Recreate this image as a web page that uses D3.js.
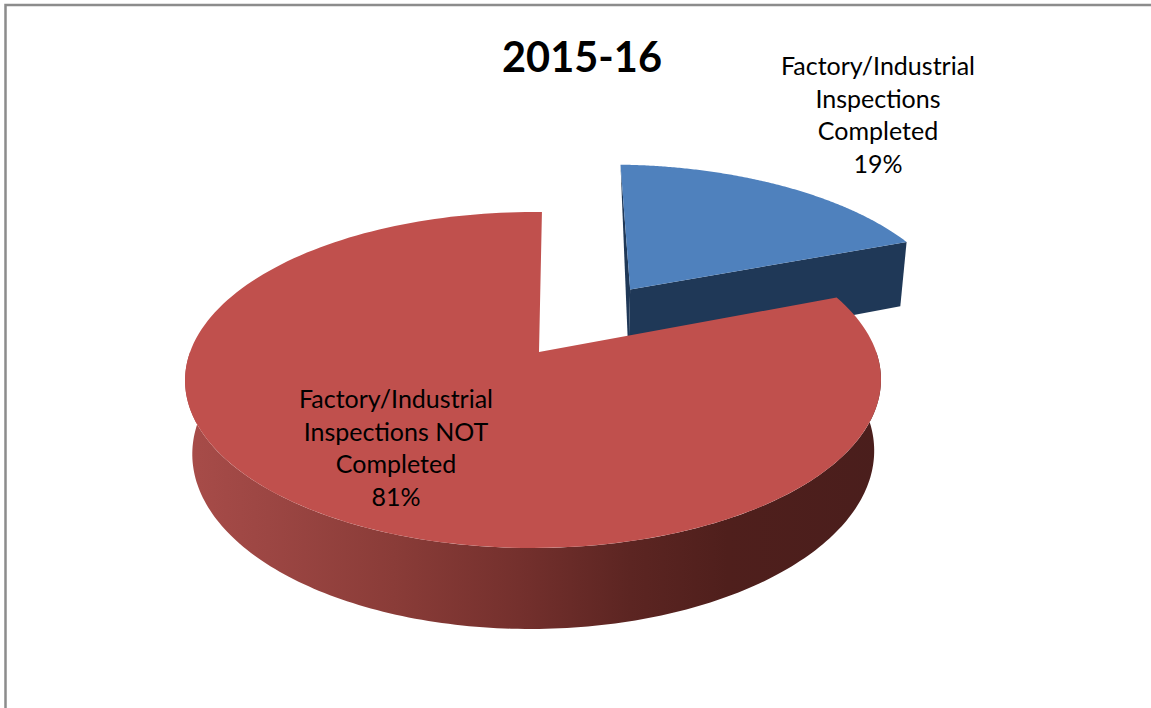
<!DOCTYPE html>
<html>
<head>
<meta charset="utf-8">
<script src="https://cdn.jsdelivr.net/npm/d3@7/dist/d3.min.js"></script>
<style>
  html, body { margin: 0; padding: 0; background: #fff; }
  svg { display: block; }
  text { font-family: Lato, "Open Sans", sans-serif; fill: #000; }
</style>
</head>
<body>
<svg id="chart" width="1151" height="708"></svg>
<script>
// Chart content
const chartTitle = "2015-16";
const categories = ["Factory/Industrial Inspections Completed", "Factory/Industrial Inspections NOT Completed"];
const values = [19, 81];
const labelLines = [
  ["Factory/Industrial", "Inspections", "Completed", "19%"],
  ["Factory/Industrial", "Inspections NOT", "Completed", "81%"]
];
const topColors = ["#4f81bd", "#c0504d"];
const sideColor = "#1f3857";
const explosion = [0.5, 0];
const sliceRadius = [1.015, 1];
const firstSliceAngle = 0.01;

// Perspective camera for a disc lying on the ground plane:
// (u, v) are disc coordinates in radii, z is 0 on the top face and 1 on the base.
const cam = { cx: 539, cy: 352, R: 343, S: 163.3, T: 73, k: 1 / 6, m: -0.017, n: 0.02 };
function project(u, v, z) {
  const w = 1 - cam.k * v - cam.m * u + cam.n * z;
  return [cam.cx + cam.R * u / w, cam.cy + (cam.S * v + cam.T * z) / w];
}

const svg = d3.select("#chart");
const defs = svg.append("defs");

// Rim shading runs from a soft red on the left to a deep brown on the right
const rim = defs.append("linearGradient")
  .attr("id", "rimShade").attr("gradientUnits", "userSpaceOnUse")
  .attr("x1", 185).attr("x2", 881).attr("y1", 0).attr("y2", 0);
[[0, "#a84c49"], [0.12, "#9c4643"], [0.3, "#8a3c38"], [0.48, "#74302d"],
 [0.64, "#5c2522"], [0.78, "#4f1f1c"], [1, "#4a1e1c"]].forEach(([o, c]) =>
  rim.append("stop").attr("offset", o).attr("stop-color", c));

// Frame: only the top and left edges fall inside the page
svg.append("path").attr("d", "M5.5,708V5H1151").attr("fill", "none")
  .attr("stroke", "#8c8c8c").attr("stroke-width", 2.5);

const slices = d3.pie().sort(null)
  .startAngle(firstSliceAngle).endAngle(firstSliceAngle + 2 * Math.PI)(values);
const line = d3.line();

// Points along a rim between two pie angles, at height z
function rimPoints(a0, a1, off, r, z) {
  return d3.range(0, 181).map(i => {
    const t = a0 + (a1 - a0) * i / 180;
    return project(off[0] + r * Math.sin(t), off[1] - r * Math.cos(t), z);
  });
}
function offsetOf(s, i) {
  const mid = (s.startAngle + s.endAngle) / 2;
  return [explosion[i] * Math.sin(mid), -explosion[i] * Math.cos(mid)];
}

// Detached slice goes first so that the large slice overlaps it
const blue = slices[0], offBlue = offsetOf(blue, 0), rBlue = sliceRadius[0];
const corner = a => [offBlue[0] + rBlue * Math.sin(a), offBlue[1] - rBlue * Math.cos(a)];
const [su, sv] = corner(blue.startAngle), [eu, ev] = corner(blue.endAngle);
// Thin sliver along the back cut, which is nearly edge-on
svg.append("path")
  .attr("d", line([project(su, sv, 0), project(offBlue[0], offBlue[1], 0), project(offBlue[0], offBlue[1], 1)]) + "Z")
  .attr("fill", sideColor);
// Front cut of the detached slice
svg.append("path")
  .attr("d", line([project(offBlue[0], offBlue[1], 0), project(eu, ev, 0), project(eu, ev, 1), project(offBlue[0], offBlue[1], 1)]) + "Z")
  .attr("fill", sideColor);
svg.append("path")
  .attr("d", line([project(offBlue[0], offBlue[1], 0), ...rimPoints(blue.startAngle, blue.endAngle, offBlue, rBlue, 0)]) + "Z")
  .attr("fill", topColors[0]);

// Large slice: visible front of the rim, then the top face
const red = slices[1], offRed = offsetOf(red, 1), rRed = sliceRadius[1];
const frontA = Math.PI / 2, frontB = 3 * Math.PI / 2;
svg.append("path")
  .attr("d", line([...rimPoints(frontA, frontB, offRed, rRed, 0), ...rimPoints(frontA, frontB, offRed, rRed, 1).reverse()]) + "Z")
  .attr("fill", "url(#rimShade)");
svg.append("path")
  .attr("d", line([project(offRed[0], offRed[1], 0), ...rimPoints(red.startAngle, red.endAngle, offRed, rRed, 0)]) + "Z")
  .attr("fill", topColors[1]);

// Title
svg.append("text").attr("x", 582).attr("y", 72).attr("text-anchor", "middle")
  .attr("font-size", 41.5).attr("font-weight", 700).text(chartTitle);

// Data labels, one text row per line
const labelAnchors = [[878, 75], [396, 408]];
labelLines.forEach((rows, i) => {
  svg.append("text").attr("text-anchor", "middle").attr("font-size", 25)
    .selectAll("tspan").data(rows).join("tspan")
    .attr("x", labelAnchors[i][0])
    .attr("y", (d, j) => labelAnchors[i][1] + j * 32.6)
    .text(d => d);
});
</script>
</body>
</html>
